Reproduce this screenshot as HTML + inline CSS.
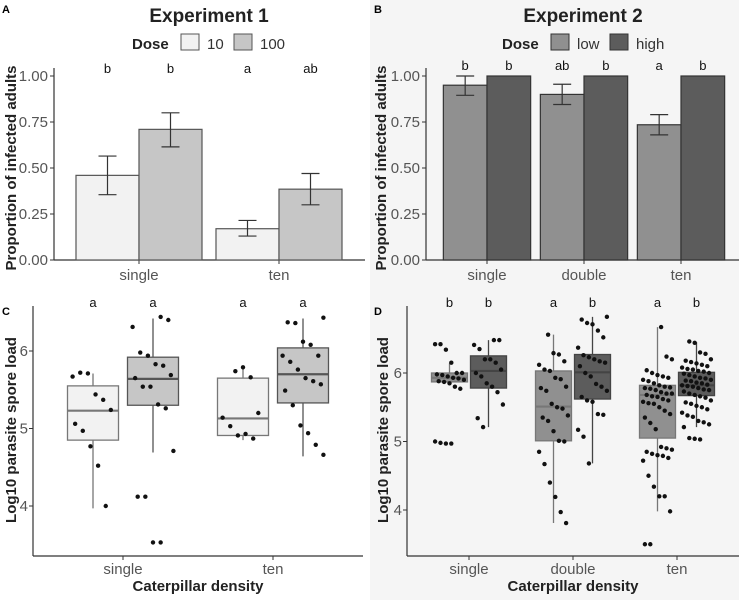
<!DOCTYPE html>
<html><head><meta charset="utf-8"><style>
body{margin:0;background:#fff;}
svg{display:block;font-family:"Liberation Sans",sans-serif;}
</style></head><body>
<svg id="fig" width="739" height="600" viewBox="0 0 739 600">
<rect x="370" y="0" width="369" height="600" fill="#f5f5f5"/>
<g font-weight="bold" font-size="11" fill="#000">
<text x="2" y="13">A</text>
<text x="374" y="13">B</text>
<text x="2" y="315">C</text>
<text x="374" y="315">D</text>
</g>
<text x="209" y="22" font-size="19" font-weight="bold" text-anchor="middle" fill="#222">Experiment 1</text>
<text x="583" y="22" font-size="19" font-weight="bold" text-anchor="middle" fill="#222">Experiment 2</text>
<g font-size="15">
<text x="132" y="49" font-weight="bold" fill="#222">Dose</text>
<rect x="181" y="34" width="18" height="16" fill="#f2f2f2" stroke="#555"/>
<text x="207" y="49" fill="#333">10</text>
<rect x="234" y="34" width="18" height="16" fill="#c6c6c6" stroke="#555"/>
<text x="260" y="49" fill="#333">100</text>
</g>
<g font-size="15">
<text x="502" y="49" font-weight="bold" fill="#222">Dose</text>
<rect x="551" y="34" width="18" height="16" fill="#909090" stroke="#333"/>
<text x="577" y="49" fill="#333">low</text>
<rect x="610" y="34" width="18" height="16" fill="#5c5c5c" stroke="#333"/>
<text x="636" y="49" fill="#333">high</text>
</g>
<text transform="translate(16,168) rotate(-90)" font-size="15" font-weight="bold" text-anchor="middle" fill="#222">Proportion of infected adults</text>
<text transform="translate(386,168) rotate(-90)" font-size="15" font-weight="bold" text-anchor="middle" fill="#222">Proportion of infected adults</text>
<text transform="translate(16,430) rotate(-90)" font-size="15" font-weight="bold" text-anchor="middle" fill="#222">Log10 parasite spore load</text>
<text transform="translate(388,430) rotate(-90)" font-size="15" font-weight="bold" text-anchor="middle" fill="#222">Log10 parasite spore load</text>
<text x="198" y="591" font-size="15" font-weight="bold" text-anchor="middle" fill="#222">Caterpillar density</text>
<text x="573" y="591" font-size="15" font-weight="bold" text-anchor="middle" fill="#222">Caterpillar density</text>
</svg>
<script>
// ---------- data ----------
const catsA = ["single","ten"];
const propA10 = [0.46, 0.17];
const loA10 = [0.355, 0.13];
const hiA10 = [0.565, 0.215];
const propA100 = [0.71, 0.385];
const loA100 = [0.615, 0.30];
const hiA100 = [0.80, 0.47];
const lettersA = ["b","b","a","ab"];
const ticksProp = [0, 0.25, 0.5, 0.75, 1];
const tickLabelsProp = ["0.00","0.25","0.50","0.75","1.00"];

const catsB = ["single","double","ten"];
const propBlow = [0.95, 0.90, 0.735];
const loBlow = [0.895, 0.845, 0.68];
const hiBlow = [1.0, 0.955, 0.79];
const propBhigh = [1, 1, 1];
const lettersB = ["b","b","ab","b","a","b"];

const ticksLoad = [4, 5, 6];
const lettersC = ["a","a","a","a"];
const lettersD = ["b","b","a","b","a","b"];
// box stats: [whiskerLow, q1, median, q3, whiskerHigh]
const boxC = [[3.97,4.85,5.23,5.55,5.71],[4.69,5.30,5.64,5.92,6.42],[4.85,4.91,5.13,5.65,5.77],[4.64,5.33,5.70,6.04,6.42]];
const ptsC = [
 [5.67,5.72,5.71,5.44,5.37,5.24,5.06,4.97,4.77,4.52,4.0],
 [6.44,6.40,6.31,5.98,5.94,5.83,5.81,5.69,5.65,5.54,5.54,5.31,5.26,4.71,4.12,4.12,3.53,3.53],
 [5.74,5.79,5.66,5.20,5.14,5.03,4.91,4.93,4.87],
 [6.43,6.37,6.36,6.12,6.08,5.94,5.94,5.86,5.76,5.65,5.61,5.57,5.49,5.30,5.04,4.94,4.79,4.66]
];
const boxD = [[5.85,5.87,5.93,6.0,6.14],[5.21,5.78,6.03,6.25,6.48],[3.81,5.01,5.51,6.03,6.56],[4.68,5.62,6.01,6.27,6.82],[3.98,5.05,5.68,5.82,6.67],[5.21,5.67,5.82,6.01,6.45]];
const ptsD = [
 [6.42,6.42,6.34,6.15,6.0,6.0,5.98,5.97,5.95,5.93,5.92,5.9,5.88,5.87,5.85,5.8,5.77,5.0,4.98,4.97,4.97],
 [6.48,6.48,6.41,6.35,6.2,6.2,6.15,6.05,6.0,5.95,5.85,5.8,5.72,5.54,5.34,5.21],
 [6.56,6.29,6.27,6.17,6.12,6.05,6.03,5.93,5.91,5.8,5.78,5.74,5.55,5.5,5.48,5.38,5.35,5.3,5.15,5.01,5.0,4.85,4.67,4.4,4.19,3.97,3.81],
 [6.82,6.78,6.73,6.71,6.62,6.52,6.37,6.26,6.23,6.2,6.17,6.15,6.1,6.0,5.95,5.84,5.8,5.74,5.65,5.6,5.58,5.4,5.39,5.17,5.07,4.68],
 [6.67,6.24,6.2,6.04,6.0,5.97,5.95,5.93,5.9,5.88,5.85,5.82,5.8,5.79,5.78,5.77,5.75,5.72,5.7,5.7,5.68,5.66,5.65,5.62,5.6,5.58,5.56,5.55,5.5,5.45,5.4,5.35,5.27,5.18,4.92,4.9,4.88,4.85,4.82,4.8,4.79,4.76,4.72,4.5,4.34,4.2,4.2,3.98,3.5,3.5],
 [6.46,6.44,6.3,6.28,6.2,6.18,6.16,6.14,6.12,6.1,6.08,6.06,6.05,6.03,6.02,6.0,5.99,5.97,5.95,5.93,5.92,5.9,5.89,5.88,5.86,5.85,5.83,5.82,5.81,5.8,5.78,5.76,5.75,5.73,5.7,5.68,5.66,5.64,5.6,5.57,5.55,5.52,5.5,5.47,5.42,5.38,5.36,5.3,5.28,5.25,5.21,5.05,5.04,5.03]
];

// ---------- drawing ----------
const NS = "http://www.w3.org/2000/svg";
const svg = document.getElementById("fig");
function mk(tag, attrs, parent) {
  const e = document.createElementNS(NS, tag);
  for (const k in attrs) e.setAttribute(k, attrs[k]);
  (parent || svg).appendChild(e);
  return e;
}
function line(x1,y1,x2,y2,stroke,w){return mk("line",{x1,y1,x2,y2,stroke,"stroke-width":w||1});}
function txt(x,y,s,attrs){const t=mk("text",Object.assign({x,y},attrs));t.textContent=s;return t;}

// Proportion panel
function propPanel(key, axisX, xRight, cats, c0, step, series, fills, strokes, errs, letters, tickColor) {
  const y0 = 260, y1 = 76;
  const ys = v => y0 - v*(y0-y1);
  const xs = i => c0 + i*step;
  const bw = 0.45*step;
  const ax = line(axisX, y0, xRight, y0, "#333", 1.2);
  
  
  const ay = line(axisX, y1-8, axisX, y0, "#333", 1.2);
  
  
  ticksProp.forEach((t,i)=>{
    const tk = line(axisX-4, ys(t), axisX, ys(t), "#333", 1);
    
    
    const tl = txt(axisX-6, ys(t)+5, tickLabelsProp[i], {"font-size":15,"text-anchor":"end",fill:"#555"});
    
    
  });
  cats.forEach((c,i)=>{
    const tk = line(xs(i), y0, xs(i), y0+4, "#333", 1);
    
    
    const tl = txt(xs(i), y0+20, c, {"font-size":15,"text-anchor":"middle",fill:"#555"});
    
    
    series.forEach((s,j)=>{
      const x = xs(i) + (j===0 ? -bw : 0);
      const r = mk("rect",{x, y:ys(s[i]), width:bw, height:y0-ys(s[i]), fill:fills[j], stroke:strokes[j], "stroke-width":1.2});
      
      
      const e = errs[j];
      const cx = x + bw/2;
      if (e) {
        const g = mk("g",{stroke:"#333","stroke-width":1.2});
        
        
        mk("line",{x1:cx,y1:ys(e[0][i]),x2:cx,y2:ys(e[1][i])},g);
        mk("line",{x1:cx-9,y1:ys(e[0][i]),x2:cx+9,y2:ys(e[0][i])},g);
        mk("line",{x1:cx-9,y1:ys(e[1][i]),x2:cx+9,y2:ys(e[1][i])},g);
      }
      const L = txt(cx, key==='a'?73:70, letters[i*2+j], {"font-size":13,"text-anchor":"middle",fill:"#111"});
      
      
    });
  });
}
propPanel('a', 54, 365, catsA, 139, 140, [propA10, propA100], ["#f2f2f2","#c6c6c6"], ["#555","#555"], [[loA10,hiA10],[loA100,hiA100]], lettersA);
propPanel('b', 426, 739, catsB, 487, 97, [propBlow, propBhigh], ["#909090","#5c5c5c"], ["#333","#333"], [[loBlow,hiBlow],null], lettersB);

// Box panels
function boxPanel(key, axisX, xRight, cats, c0, step, off, bw, v6y, unit, boxes, pts, fills, strokes, letters) {
  const yB = 556;
  const ys = v => v6y - (v-6)*unit;
  const xs = i => c0 + i*step;
  const ax = line(axisX, yB, xRight, yB, "#333", 1.2);
  
  
  const ay = line(axisX, 306, axisX, yB, "#333", 1.2);
  
  
  ticksLoad.forEach(t=>{
    const tk = line(axisX-4, ys(t), axisX, ys(t), "#333", 1);
    
    
    const tl = txt(axisX-5, ys(t)+5, String(t), {"font-size":15,"text-anchor":"end",fill:"#555"});
    
    
  });
  cats.forEach((c,i)=>{
    const tk = line(xs(i), yB, xs(i), yB+4, "#333", 1);
    
    
    const tl = txt(xs(i), yB+18, c, {"font-size":15,"text-anchor":"middle",fill:"#555"});
    
    
    for (let j=0;j<2;j++){
      const k = i*2+j;
      const cx = xs(i) + (j===0?-off:off);
      const b = boxes[k];
      const g = mk("g",{stroke:strokes[j],"stroke-width":1.3});
      
      
      mk("line",{x1:cx,y1:ys(b[0]),x2:cx,y2:ys(b[4])},g);
      mk("rect",{x:cx-bw/2,y:ys(b[3]),width:bw,height:ys(b[1])-ys(b[3]),fill:fills[j]},g);
      mk("line",{x1:cx-bw/2,y1:ys(b[2]),x2:cx+bw/2,y2:ys(b[2]),"stroke-width":2.2},g);
      pts[k].forEach((v,n)=>{
        const jit = (((n*37+k*11)%17)/16 - 0.5) * bw * 0.8;
        const p = mk("circle",{cx:cx+jit, cy:ys(v), r:2.2, fill:"#111"});
        
        
      });
      const L = txt(cx, 307, letters[k], {"font-size":13,"text-anchor":"middle",fill:"#111"});
      
      
    }
  });
}
boxPanel('c', 33, 363, catsA, 123, 150, 30, 51, 351, 77.5, boxC, ptsC, ["#f2f2f2","#c6c6c6"], ["#777","#555"], lettersC);
boxPanel('d', 407, 739, catsB, 469, 104, 19.5, 36, 373, 68.5, boxD, ptsD, ["#909090","#5c5c5c"], ["#777","#444"], lettersD);
</script>
</body></html>
